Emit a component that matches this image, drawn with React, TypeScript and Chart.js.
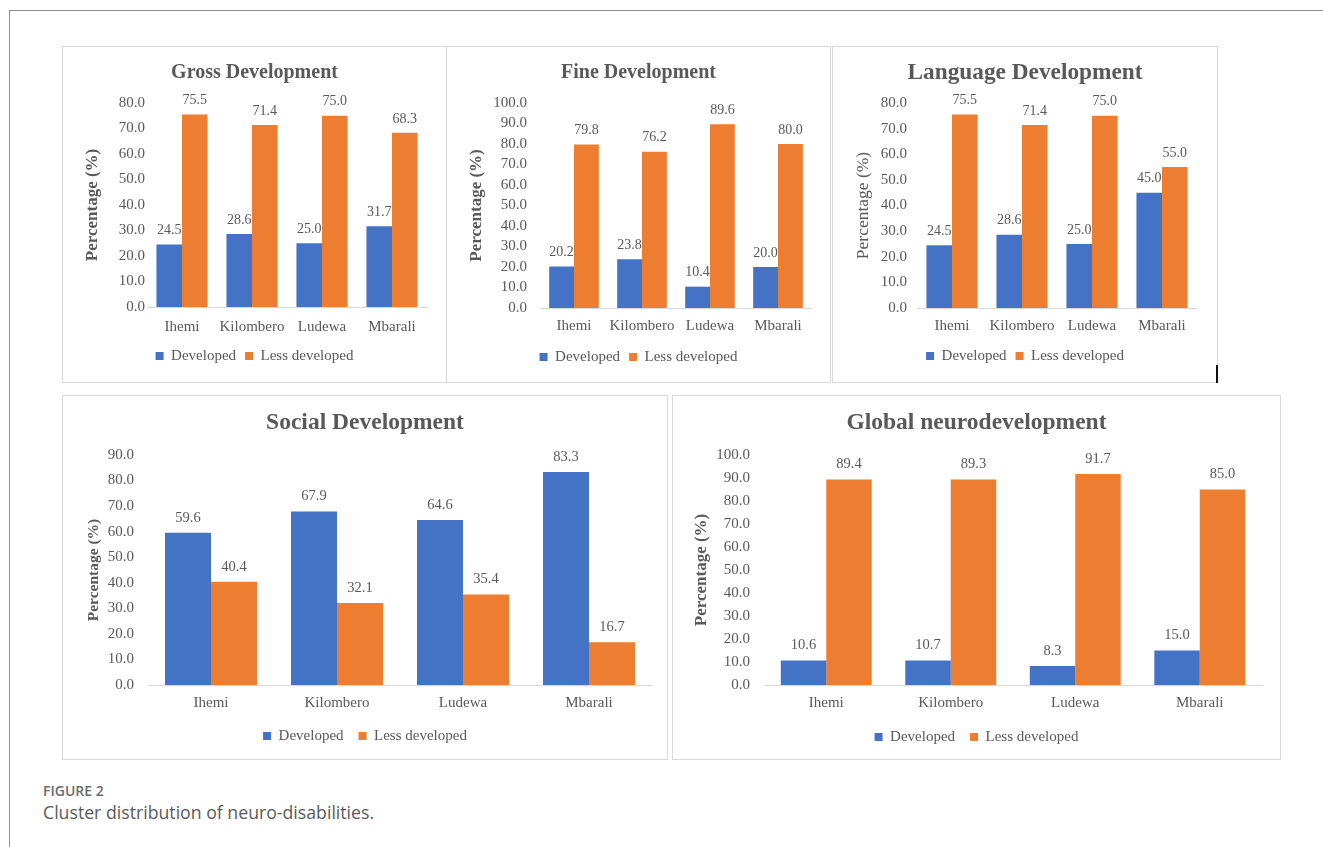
import React, { useEffect, useRef } from "react";
import { Chart, registerables } from "chart.js";

Chart.register(...registerables);

// ---------- data ----------
const categories = ["Ihemi", "Kilombero", "Ludewa", "Mbarali"];
const seriesNames = ["Developed", "Less developed"];
const yAxisLabel = "Percentage (%)";
const axisStep = 10;

const grossTitle = "Gross Development";
const grossDeveloped = [24.5, 28.6, 25.0, 31.7];
const grossLessDeveloped = [75.5, 71.4, 75.0, 68.3];
const grossAxisMax = 80;

const fineTitle = "Fine Development";
const fineDeveloped = [20.2, 23.8, 10.4, 20.0];
const fineLessDeveloped = [79.8, 76.2, 89.6, 80.0];
const fineAxisMax = 100;

const languageTitle = "Language Development";
const languageDeveloped = [24.5, 28.6, 25.0, 45.0];
const languageLessDeveloped = [75.5, 71.4, 75.0, 55.0];
const languageAxisMax = 80;

const socialTitle = "Social Development";
const socialDeveloped = [59.6, 67.9, 64.6, 83.3];
const socialLessDeveloped = [40.4, 32.1, 35.4, 16.7];
const socialAxisMax = 90;

const globalTitle = "Global neurodevelopment";
const globalDeveloped = [10.6, 10.7, 8.3, 15.0];
const globalLessDeveloped = [89.4, 89.3, 91.7, 85.0];
const globalAxisMax = 100;

const figureLabel = "FIGURE 2";
const figureCaption = "Cluster distribution of neuro-disabilities.";

// ---------- styles ----------
const BLUE = "#4472C4";
const ORANGE = "#ED7D31";
const TEXT = "#595959";
const SERIF = '"Liberation Serif", "Times New Roman", serif';

Chart.defaults.font.family = SERIF;

type Panel = {
  title: string;
  developed: number[];
  less: number[];
  max: number;
  box: { x: number; y: number; w: number; h: number };
  plotLeft: number;
  plotRight: number;
  plotTop: number;
  plotBottom: number;
  titleSize: number;
  titleCenter: number;
  yTitleSize: number;
  yTitleBold: boolean;
  yTitleCenter: number;
  tickSize: number;
  tickPad: number;
  xLabelCenter: number;
  legendCenter: number;
  legendGap: number;
  labelSize: number;
  labelOffset: number;
};

const panels: Panel[] = [
  {
    title: grossTitle, developed: grossDeveloped, less: grossLessDeveloped, max: grossAxisMax,
    box: { x: 62, y: 46, w: 385, h: 337 },
    plotLeft: 84, plotRight: 364, plotTop: 56, plotBottom: 260,
    titleSize: 20, titleCenter: 26, yTitleSize: 17, yTitleBold: true, yTitleCenter: 30,
    tickSize: 15, tickPad: 2, xLabelCenter: 280, legendCenter: 309, legendGap: 9,
    labelSize: 14, labelOffset: 14,
  },
  {
    title: fineTitle, developed: fineDeveloped, less: fineLessDeveloped, max: fineAxisMax,
    box: { x: 446, y: 46, w: 385, h: 337 },
    plotLeft: 93, plotRight: 365, plotTop: 56, plotBottom: 261,
    titleSize: 20, titleCenter: 26, yTitleSize: 17, yTitleBold: true, yTitleCenter: 30,
    tickSize: 15, tickPad: 13, xLabelCenter: 279, legendCenter: 310, legendGap: 9,
    labelSize: 14, labelOffset: 14,
  },
  {
    title: languageTitle, developed: languageDeveloped, less: languageLessDeveloped, max: languageAxisMax,
    box: { x: 832, y: 46, w: 386, h: 337 },
    plotLeft: 84, plotRight: 364, plotTop: 56, plotBottom: 261,
    titleSize: 23.3, titleCenter: 26, yTitleSize: 17.5, yTitleBold: false, yTitleCenter: 30,
    tickSize: 15, tickPad: 10, xLabelCenter: 279, legendCenter: 309, legendGap: 9,
    labelSize: 14, labelOffset: 14,
  },
  {
    title: socialTitle, developed: socialDeveloped, less: socialLessDeveloped, max: socialAxisMax,
    box: { x: 62, y: 395, w: 606, h: 365 },
    plotLeft: 85, plotRight: 589, plotTop: 59, plotBottom: 289,
    titleSize: 23.5, titleCenter: 27, yTitleSize: 15.5, yTitleBold: true, yTitleCenter: 31,
    tickSize: 15, tickPad: 14, xLabelCenter: 307, legendCenter: 340, legendGap: 15,
    labelSize: 14.5, labelOffset: 15,
  },
  {
    title: globalTitle, developed: globalDeveloped, less: globalLessDeveloped, max: globalAxisMax,
    box: { x: 672, y: 395, w: 609, h: 365 },
    plotLeft: 91, plotRight: 589, plotTop: 59, plotBottom: 289,
    titleSize: 23.5, titleCenter: 27, yTitleSize: 17, yTitleBold: true, yTitleCenter: 29,
    tickSize: 15, tickPad: 14, xLabelCenter: 307, legendCenter: 341, legendGap: 15,
    labelSize: 14.5, labelOffset: 15,
  },
];

// data labels above bars
const valueLabels = {
  id: "valueLabels",
  afterDatasetsDraw(chart: any, _args: any, opts: any) {
    const ctx = chart.ctx;
    ctx.save();
    ctx.font = `${opts.size}px ${SERIF}`;
    ctx.fillStyle = TEXT;
    ctx.textAlign = "center";
    ctx.textBaseline = "middle";
    chart.data.datasets.forEach((ds: any, i: number) => {
      const meta = chart.getDatasetMeta(i);
      meta.data.forEach((bar: any, j: number) => {
        ctx.fillText(Number(ds.data[j]).toFixed(1), bar.x, bar.y - opts.offset);
      });
    });
    ctx.restore();
  },
};

function ChartPanel({ p }: { p: Panel }) {
  const ref = useRef<HTMLCanvasElement>(null);
  const W = p.box.w - 2;
  const H = p.box.h - 2;

  useEffect(() => {
    const titleLH = p.titleSize * 1.2;
    const titlePadTop = p.titleCenter - titleLH / 2;
    const titlePadBottom = p.plotTop - titlePadTop - titleLH;
    const itemH = 15;
    const padBottom = H - 10 - itemH / 2 - p.legendCenter;
    const legendH = itemH + p.legendGap + 10;
    const legendTop = H - padBottom - legendH;
    const xHeight = legendTop - p.plotBottom;
    const tickLH = p.tickSize * 1.2;
    const xTickPad = p.xLabelCenter - p.plotBottom - tickLH / 2;
    const yTitleLH = p.yTitleSize * 1.2;

    const chart = new Chart(ref.current as HTMLCanvasElement, {
      type: "bar",
      data: {
        labels: categories,
        datasets: [
          { label: seriesNames[0], data: p.developed, backgroundColor: BLUE, borderWidth: 0 },
          { label: seriesNames[1], data: p.less, backgroundColor: ORANGE, borderWidth: 0 },
        ],
      },
      options: {
        responsive: false,
        animation: false,
        devicePixelRatio: 1,
        layout: { padding: { left: 0, right: 0, top: 0, bottom: padBottom } },
        datasets: { bar: { categoryPercentage: 0.73, barPercentage: 1 } } as any,
        plugins: {
          title: {
            display: true,
            text: p.title,
            color: TEXT,
            font: { family: SERIF, size: p.titleSize, weight: "bold", lineHeight: 1.2 },
            padding: { top: titlePadTop, bottom: titlePadBottom },
          },
          legend: {
            position: "bottom",
            labels: {
              boxWidth: 8,
              boxHeight: 8,
              padding: p.legendGap,
              color: TEXT,
              font: { family: SERIF, size: 15 },
            },
          },
          tooltip: { enabled: false },
          valueLabels: { size: p.labelSize, offset: p.labelOffset },
        } as any,
        scales: {
          x: {
            grid: { display: false, drawTicks: false },
            border: { display: true, color: "#d9d9d9", width: 1 },
            ticks: {
              color: TEXT,
              font: { family: SERIF, size: p.tickSize, lineHeight: 1.2 },
              padding: xTickPad,
              maxRotation: 0,
              autoSkip: false,
            },
            afterFit: (s: any) => { s.height = xHeight; },
          },
          y: {
            min: 0,
            max: p.max,
            grid: { display: false, drawTicks: false },
            border: { display: false },
            ticks: {
              stepSize: axisStep,
              autoSkip: false,
              color: TEXT,
              font: { family: SERIF, size: p.tickSize },
              padding: p.tickPad,
              callback: (v: any) => Number(v).toFixed(1),
            },
            title: {
              display: true,
              text: yAxisLabel,
              color: TEXT,
              font: { family: SERIF, size: p.yTitleSize, weight: p.yTitleBold ? "bold" : "normal", lineHeight: 1.2 },
              padding: { top: p.yTitleCenter - yTitleLH / 2, bottom: 0 },
            },
            afterFit: (s: any) => { s.width = p.plotLeft; },
          },
          yRight: {
            position: "right",
            display: true,
            grid: { display: false, drawTicks: false },
            border: { display: false },
            ticks: { display: false },
            afterFit: (s: any) => { s.width = W - p.plotRight; },
          },
        } as any,
      },
      plugins: [valueLabels],
    });
    return () => chart.destroy();
  }, []);

  return (
    <div
      style={{
        position: "absolute",
        left: p.box.x,
        top: p.box.y,
        width: p.box.w,
        height: p.box.h,
        boxSizing: "border-box",
        border: "1px solid #d9d9d9",
        background: "#fff",
      }}
    >
      <canvas ref={ref} width={W} height={H} style={{ display: "block", width: W, height: H }} />
    </div>
  );
}

export default function App() {
  return (
    <div style={{ position: "absolute", left: 0, top: 0, width: 1323, height: 847, background: "#fff", overflow: "hidden" }}>
      <div style={{ position: "absolute", left: 10, top: 10, width: 1313, height: 1, background: "#8f8f8f" }} />
      <div style={{ position: "absolute", left: 9, top: 10, width: 1, height: 837, background: "#8f8f8f" }} />
      {panels.map((p, i) => (
        <ChartPanel key={i} p={p} />
      ))}
      <div style={{ position: "absolute", left: 1216, top: 365, width: 1.5, height: 18, background: "#111" }} />
      <div
        style={{
          position: "absolute",
          left: 43,
          top: 782,
          fontFamily: '"Open Sans", sans-serif',
          fontWeight: 600,
          fontSize: 14,
          lineHeight: "18px",
          color: "#6b6b6b",
          whiteSpace: "nowrap",
        }}
      >
        {figureLabel}
      </div>
      <div
        style={{
          position: "absolute",
          left: 43,
          top: 801,
          fontFamily: '"Open Sans", sans-serif',
          fontSize: 17.7,
          lineHeight: "23px",
          color: "#5a5a5a",
          whiteSpace: "nowrap",
        }}
      >
        {figureCaption}
      </div>
    </div>
  );
}
